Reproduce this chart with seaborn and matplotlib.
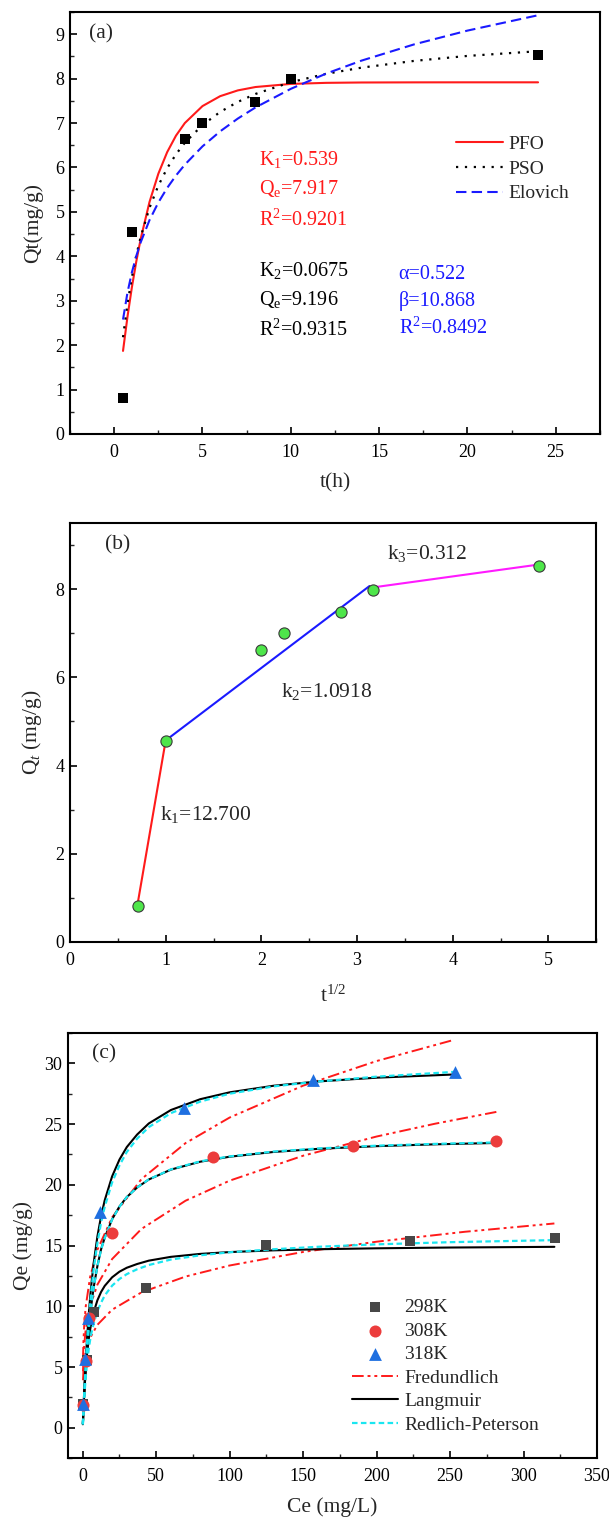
import matplotlib
matplotlib.use("Agg")
import matplotlib.pyplot as plt
import seaborn as sns
from matplotlib.ticker import MultipleLocator

# ---------------- panel (a): adsorption kinetics ----------------
t_h = [0.5, 1, 4, 5, 8, 10, 24]
qt = [0.82, 4.55, 6.63, 7.01, 7.48, 7.99, 8.53]

t_fit = [0.5, 0.75, 1, 1.25, 1.5, 2, 2.5, 3, 3.5, 4, 5, 6, 7, 8, 10, 12, 14, 17, 20, 24]
q_pfo = [1.870, 2.632, 3.299, 3.881, 4.390, 5.223, 5.859, 6.345, 6.717, 7.000,
         7.382, 7.605, 7.735, 7.811, 7.881, 7.905, 7.913, 7.916, 7.917, 7.917]
q_pso = [2.178, 2.921, 3.522, 4.018, 4.434, 5.093, 5.592, 5.983, 6.297, 6.556,
         6.955, 7.250, 7.476, 7.655, 7.920, 8.108, 8.247, 8.400, 8.511, 8.617]
q_elo = [2.576, 3.179, 3.636, 4.005, 4.315, 4.815, 5.211, 5.539, 5.819, 6.063,
         6.475, 6.813, 7.101, 7.351, 7.770, 8.113, 8.405, 8.773, 9.081, 9.427]

# ---------------- panel (b): intraparticle diffusion ----------------
sqrt_t = [0.707, 1.0, 2.0, 2.236, 2.828, 3.162, 4.899]
seg1_x, seg1_y = [0.707, 1.0], [0.87, 4.57]
seg2_x, seg2_y = [1.0, 3.13], [4.57, 8.07]
seg3_x, seg3_y = [3.17, 4.906], [8.04, 8.56]

# ---------------- panel (c): isotherms ----------------
ce_298 = [0.5, 3.0, 7.4, 42.8, 124.8, 222.6, 321.3]
qe_298 = [2.0, 5.6, 9.5, 11.5, 15.05, 15.35, 15.65]
ce_308 = [0.3, 2.0, 4.5, 20.2, 88.4, 183.8, 281.5]
qe_308 = [1.9, 5.5, 9.0, 16.05, 22.25, 23.2, 23.62]
ce_318 = [0.2, 1.5, 3.5, 12.0, 68.8, 156.7, 253.6]
qe_318 = [1.95, 5.7, 9.0, 17.75, 26.3, 28.65, 29.3]

c298 = [0.1, 0.5, 1, 2, 3, 4, 5, 6, 7.5, 10, 12.5, 15, 20, 25, 30, 37, 45, 60, 80,
        100, 130, 160, 200, 250, 321]
lang_298 = [0.337, 1.547, 2.807, 4.734, 6.138, 7.206, 8.049, 8.730, 9.533, 10.501,
            11.184, 11.687, 12.387, 12.853, 13.176, 13.483, 13.761, 14.073, 14.316,
            14.466, 14.608, 14.698, 14.776, 14.840, 14.897]
rp_298 = [0.3, 1.3, 2.4, 4.1, 5.4, 6.4, 7.2, 7.85, 8.6, 9.6,
          10.3, 10.9, 11.7, 12.25, 12.65, 13.05, 13.4, 13.85, 14.2,
          14.45, 14.7, 14.9, 15.1, 15.28, 15.45]
f298 = [0.2, 0.5, 1, 2, 5, 10, 20, 40, 70, 100, 150, 200, 260, 321]
fr_298 = [3.92, 4.69, 5.383, 6.172, 7.396, 8.481, 9.724, 11.150, 12.453, 13.361,
          14.474, 15.319, 16.135, 16.82]

c308 = [0.1, 0.5, 1, 2, 3, 4, 5, 6, 7.5, 10, 12.5, 15, 20, 25, 30, 37, 45, 60, 80,
        100, 130, 160, 200, 240, 281.5]
lang_308 = [0.294, 1.402, 2.651, 4.776, 6.519, 7.982, 9.206, 10.258, 11.596, 13.326,
            14.698, 15.662, 17.167, 18.212, 18.992, 19.777, 20.441, 21.251, 21.902,
            22.313, 22.705, 22.958, 23.181, 23.333, 23.445]
rp_308 = [0.28, 1.36, 2.6, 4.72, 6.46, 7.93, 9.15, 10.2, 11.55, 13.29,
          14.67, 15.64, 17.15, 18.2, 18.99, 19.78, 20.45, 21.27, 21.93,
          22.34, 22.74, 22.99, 23.22, 23.37, 23.49]
f308 = [0.2, 0.5, 1, 2, 5, 10, 20, 40, 70, 100, 150, 200, 240, 281.5]
fr_308 = [4.66, 5.795, 6.83, 8.049, 10.001, 11.787, 13.892, 16.373, 18.694, 20.343,
          22.396, 23.975, 25.034, 26.0]

c318 = [0.1, 0.5, 1, 2, 3, 4, 5, 6, 7.5, 10, 12.5, 15, 20, 25, 30, 37, 45, 60, 80,
        100, 130, 160, 200, 253.6]
lang_318 = [0.327, 1.566, 2.977, 5.419, 7.458, 9.187, 10.669, 11.957, 13.597, 15.758,
            17.421, 18.738, 20.694, 22.076, 23.106, 24.134, 25.053, 26.155, 27.047,
            27.612, 28.155, 28.505, 28.816, 29.084]
rp_318 = [0.3, 1.45, 2.8, 5.15, 7.1, 8.75, 10.2, 11.45, 13.1, 15.2,
          16.9, 18.2, 20.2, 21.6, 22.7, 23.8, 24.75, 25.9, 26.85,
          27.5, 28.1, 28.5, 28.9, 29.3]
f318 = [0.2, 0.5, 1, 2, 5, 10, 20, 40, 70, 100, 150, 200, 253]
fr_318 = [5.70, 7.115, 8.41, 9.941, 12.399, 14.655, 17.322, 20.475, 23.434, 25.537,
          28.161, 30.186, 31.94]

sns.set_theme(style="ticks")
plt.rcParams["font.family"] = ["Liberation Serif", "DejaVu Serif"]
plt.rcParams["mathtext.fontset"] = "custom"
plt.rcParams["mathtext.rm"] = "Liberation Serif"
plt.rcParams["mathtext.it"] = "Liberation Serif:italic"
plt.rcParams["axes.linewidth"] = 1.5
plt.rcParams["xtick.direction"] = "in"
plt.rcParams["ytick.direction"] = "in"

fig = plt.figure(figsize=(6.09, 15.19), dpi=100)
ax1 = fig.add_axes([0.115, 0.7143, 0.870, 0.2778])
ax2 = fig.add_axes([0.115, 0.3799, 0.864, 0.2758])
ax3 = fig.add_axes([0.1117, 0.0400, 0.8686, 0.2800])


def style_axis(ax):
    for s in ax.spines.values():
        s.set_linewidth(1.5)
        s.set_color("black")
    ax.tick_params(which="major", length=5, width=1.2, labelsize=13, colors="black")
    ax.tick_params(which="minor", length=3, width=1.0)
    ax.tick_params(axis="x", which="major", pad=7)
    ax.tick_params(axis="y", which="major", pad=4)
    ax.tick_params(top=False, right=False, which="both")


# ---- (a)
sns.lineplot(x=t_fit, y=q_pfo, ax=ax1, color="#ff1a1a", lw=1.5, sort=False, label="PFO")
sns.lineplot(x=t_fit, y=q_pso, ax=ax1, color="black", lw=1.6, linestyle=(0, (1, 3)),
             sort=False, label="PSO")
sns.lineplot(x=t_fit, y=q_elo, ax=ax1, color="#1a1aff", lw=1.5, linestyle=(0, (5, 2.5)),
             sort=False, label="Elovich")
sns.scatterplot(x=t_h, y=qt, ax=ax1, marker="s", s=60, color="black", linewidth=0, zorder=5)
ax1.set_xlim(-2.5, 27.5)
ax1.set_ylim(0, 9.5)
ax1.xaxis.set_major_locator(MultipleLocator(5))
ax1.xaxis.set_minor_locator(MultipleLocator(2.5))
ax1.yaxis.set_major_locator(MultipleLocator(1))
ax1.yaxis.set_minor_locator(MultipleLocator(0.5))
ax1.set_xlabel("t(h)", fontsize=15.5, labelpad=9)
ax1.set_ylabel("Qt(mg/g)", fontsize=15.5, labelpad=9)
style_axis(ax1)
ax1.legend(loc="upper left", bbox_to_anchor=(0.71, 0.73), frameon=False, fontsize=14,
           handlelength=2.4, labelspacing=0.36, handletextpad=0.3, borderpad=0)
ax1.text(-1.45, 9.0, "(a)", fontsize=15.5, va="center", ha="left")
fs = 14.5
ax1.text(8.2, 6.19, "K$_1$=0.539", color="#ff1a1a", fontsize=fs, va="center")
ax1.text(8.2, 5.53, r"Q$_\mathrm{e}$=7.917", color="#ff1a1a", fontsize=fs, va="center")
ax1.text(8.2, 4.82, "R$^2$=0.9201", color="#ff1a1a", fontsize=fs, va="center")
ax1.text(8.2, 3.69, "K$_2$=0.0675", color="black", fontsize=fs, va="center")
ax1.text(8.2, 3.03, r"Q$_\mathrm{e}$=9.196", color="black", fontsize=fs, va="center")
ax1.text(8.2, 2.33, "R$^2$=0.9315", color="black", fontsize=fs, va="center")
ax1.text(16.1, 3.60, "α=0.522", color="#1a1aff", fontsize=fs, va="center")
ax1.text(16.1, 2.99, "β=10.868", color="#1a1aff", fontsize=fs, va="center")
ax1.text(16.1, 2.38, "R$^2$=0.8492", color="#1a1aff", fontsize=fs, va="center")

# ---- (b)
sns.lineplot(x=seg1_x, y=seg1_y, ax=ax2, color="#ff1a1a", lw=1.5, sort=False)
sns.lineplot(x=seg2_x, y=seg2_y, ax=ax2, color="#1a1aff", lw=1.5, sort=False)
sns.lineplot(x=seg3_x, y=seg3_y, ax=ax2, color="#ff1aff", lw=1.5, sort=False)
sns.scatterplot(x=sqrt_t, y=qt, ax=ax2, marker="o", s=65, color="#4ee64a",
                edgecolor="#3a3a3a", linewidth=0.8, zorder=5)
ax2.set_xlim(0, 5.5)
ax2.set_ylim(0, 9.5)
ax2.xaxis.set_major_locator(MultipleLocator(1))
ax2.xaxis.set_minor_locator(MultipleLocator(0.5))
ax2.yaxis.set_major_locator(MultipleLocator(2))
ax2.yaxis.set_minor_locator(MultipleLocator(1))
ax2.set_xlabel("t$^{1/2}$", fontsize=15.5, labelpad=12)
ax2.set_ylabel("Q$_t$ (mg/g)", fontsize=15.5, labelpad=8)
style_axis(ax2)
ax2.text(0.37, 9.0, "(b)", fontsize=15.5, va="center")
ax2.text(3.31, 8.8, "k$_3$=0.312", fontsize=15.5, va="center")
ax2.text(2.21, 5.67, "k$_2$=1.0918", fontsize=15.5, va="center")
ax2.text(0.94, 2.88, "k$_1$=12.700", fontsize=15.5, va="center")

# ---- (c)
fr_style = dict(color="#ff1a1a", lw=1.4, linestyle=(0, (6, 2, 1.5, 2, 1.5, 2)), sort=False)
rp_style = dict(color="#1ae6f0", lw=1.6, linestyle=(0, (2.5, 1.5)), sort=False)
la_style = dict(color="black", lw=1.5, sort=False)
sns.lineplot(x=f298, y=fr_298, ax=ax3, label="Fredundlich", **fr_style)
sns.lineplot(x=f308, y=fr_308, ax=ax3, **fr_style)
sns.lineplot(x=f318, y=fr_318, ax=ax3, **fr_style)
sns.lineplot(x=c298, y=lang_298, ax=ax3, label="Langmuir", **la_style)
sns.lineplot(x=c308, y=lang_308, ax=ax3, **la_style)
sns.lineplot(x=c318, y=lang_318, ax=ax3, **la_style)
sns.lineplot(x=c298, y=rp_298, ax=ax3, label="Redlich-Peterson", **rp_style)
sns.lineplot(x=c308, y=rp_308, ax=ax3, **rp_style)
sns.lineplot(x=c318, y=rp_318, ax=ax3, **rp_style)
sns.scatterplot(x=ce_298, y=qe_298, ax=ax3, marker="s", s=50, color="#474747",
                linewidth=0, label="298K", zorder=5)
sns.scatterplot(x=ce_308, y=qe_308, ax=ax3, marker="o", s=75, color="#ec3c3c",
                linewidth=0, label="308K", zorder=5)
sns.scatterplot(x=ce_318, y=qe_318, ax=ax3, marker="^", s=85, color="#1f6fe0",
                linewidth=0, label="318K", zorder=5)
ax3.set_xlim(-10, 350)
ax3.set_ylim(-2.5, 32.5)
ax3.xaxis.set_major_locator(MultipleLocator(50))
ax3.xaxis.set_minor_locator(MultipleLocator(25))
ax3.yaxis.set_major_locator(MultipleLocator(5))
ax3.yaxis.set_minor_locator(MultipleLocator(2.5))
ax3.set_xlabel("Ce (mg/L)", fontsize=15.5, labelpad=9)
ax3.set_ylabel("Qe (mg/g)", fontsize=15.5, labelpad=8)
style_axis(ax3)
ax3.text(6, 30.8, "(c)", fontsize=15.5, va="center")
h, l = ax3.get_legend_handles_labels()
order = ["298K", "308K", "318K", "Fredundlich", "Langmuir", "Redlich-Peterson"]
hd = dict(zip(l, h))
ax3.legend([hd[k] for k in order], order, loc="upper left", bbox_to_anchor=(0.518, 0.398),
           frameon=False, fontsize=14, handlelength=2.4, labelspacing=0.3,
           handletextpad=0.3, borderpad=0)

fig.savefig("out.png", dpi=100)
